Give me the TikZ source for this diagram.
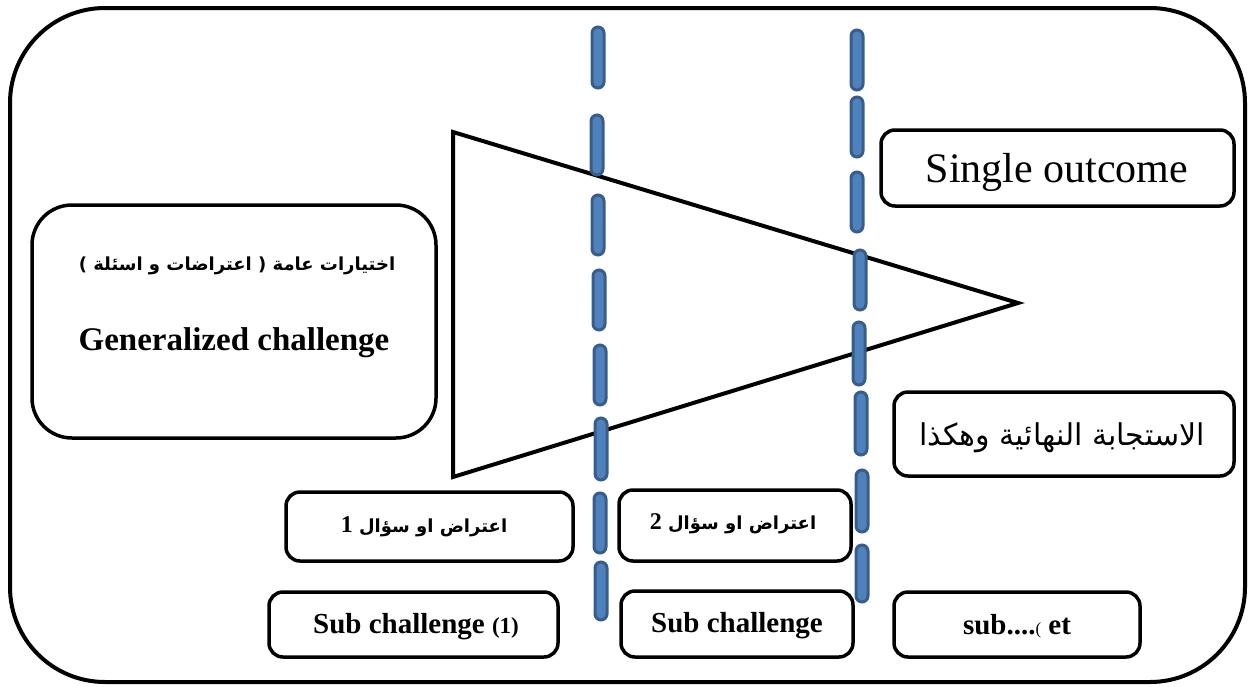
\documentclass[tikz,border=0pt]{standalone}
\usepackage{fontspec}
\setmainfont{Liberation Serif}
\newfontfamily\arabicfont[Script=Arabic]{DejaVu Sans}
\TeXXeTstate=1
\definecolor{dashfill}{HTML}{4F81BD}
\definecolor{dashdraw}{HTML}{385D8A}
\tikzset{
  box/.style={draw=black, line width=3.5pt, rounded corners=14pt},
  dashbar/.style={draw=dashdraw, fill=dashfill, line width=3pt, rounded corners=6pt},
  fs/.style={font=\fontsize{#1}{#1}\selectfont}
}
\begin{document}
\begin{tikzpicture}[x=1pt,y=-1pt]
\useasboundingbox (0,0) rectangle (1253,686);
% outer frame
\draw[line width=4pt, rounded corners=95pt] (10,8) rectangle (1245,682);
% triangle
\coordinate (t1) at (453,132);
\coordinate (t2) at (1018,303);
\coordinate (t3) at (453,477);
\draw[line width=4pt, line join=miter] (t1) -- (t2) -- (t3) -- cycle;
% left dashed line
\foreach \a/\b/\x in {27/88/598, 115/175/597, 195/255/598, 270/330/599, 345/405/600, 418/480/601, 493/553/600, 562/620/601}
  \draw[dashbar] (\x-6,\a) rectangle (\x+6,\b);
% right dashed line
\foreach \a/\b/\x in {30/90/857, 97/157/857, 172/232/857, 250/310/860, 322/385/859, 392/455/861, 470/532/862, 545/602/862}
  \draw[dashbar] (\x-6,\a) rectangle (\x+6,\b);
% boxes
\draw[box, rounded corners=40pt] (32,205) rectangle (436,438);
\node[fs=18] (garabic) at (237,266) {\arabicfont\bfseries\beginR اختيارات عامة ( اعتراضات و اسئلة )\endR};
\node[fs=33] (gen) at (234,343) {\bfseries Generalized challenge};
\draw[box] (881,130) rectangle (1234,206);
\node[fs=42] (single) at (1057,172) {Single outcome};
\draw[box] (894,392) rectangle (1234,476);
\node[fs=30] (final) at (1062,438) {\arabicfont\beginR الاستجابة النهائية وهكذا\endR};
\draw[box] (286,492) rectangle (573,561);
\node[fs=18] (q1) at (424,527) {\arabicfont\bfseries\beginR اعتراض او سؤال \textrm{\bfseries\fontsize{24}{24}\selectfont 1}\endR};
\draw[box] (619,490) rectangle (851,561);
\node[fs=18] (q2) at (733,524) {\arabicfont\bfseries\beginR اعتراض او سؤال \textrm{\bfseries\fontsize{24}{24}\selectfont 2}\endR};
\draw[box] (269,592) rectangle (558,657);
\node[fs=29] (s1) at (416,627) {\bfseries Sub challenge {\fontsize{23}{23}\selectfont(1)}};
\draw[box] (621,591) rectangle (853,657);
\node[fs=29] (s2) at (737,626) {\bfseries Sub challenge};
\draw[box] (894,592) rectangle (1140,657);
\node[fs=29] (s3) at (1017,626) {\bfseries sub....{\mdseries\fontsize{17}{17}\selectfont(} et};
\end{tikzpicture}
\end{document}
